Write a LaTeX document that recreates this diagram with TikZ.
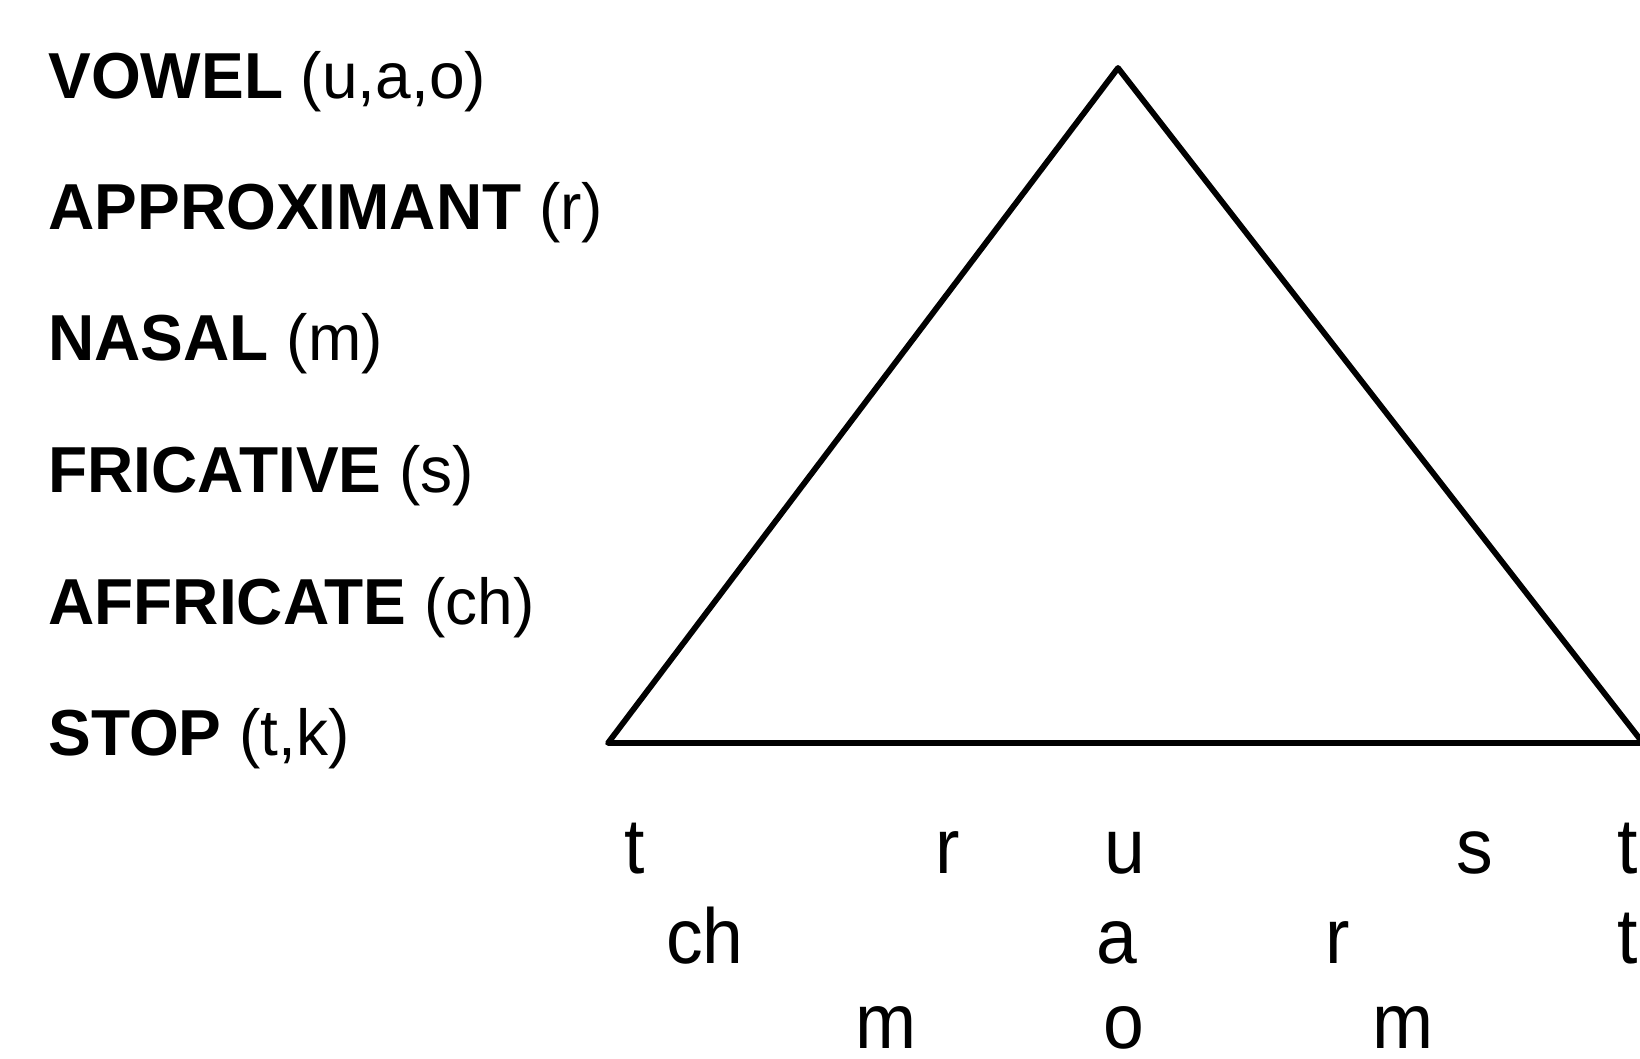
\documentclass[tikz,border=0pt]{standalone}
\usepackage{fontspec}
\setmainfont{Liberation Sans}[FakeStretch=0.94]
\newfontfamily\labfont{Liberation Sans}[FakeStretch=0.985]
\begin{document}
\begin{tikzpicture}[x=0.5pt,y=-0.5pt,
  lab/.style={anchor=base west,inner sep=0pt,font=\labfont\fontsize{32.5pt}{39pt}\selectfont},
  seg/.style={anchor=base,inner sep=0pt,font=\fontsize{39pt}{46pt}\selectfont},
  tri/.style={draw=black,line width=2.9pt,line join=round,line cap=round}]
\useasboundingbox (0,0) rectangle (1640,1059);
\begin{scope}
\clip (0,0) rectangle (1640,1059);
\node[lab] (vowel) at (48,99) {\textbf{VOWEL} (u,a,o)};
\node[lab] (approx) at (48,230) {\textbf{APPROXIMANT} (r)};
\node[lab] (nasal) at (48,361) {\textbf{NASAL} (m)};
\node[lab] (fric) at (48,493) {\textbf{FRICATIVE} (s)};
\node[lab] (affr) at (48,624) {\textbf{AFFRICATE} (ch)};
\node[lab] (stop) at (48,755) {\textbf{STOP} (t,k)};
\coordinate (apex) at (1118,68);
\coordinate (bl) at (608,743);
\coordinate (br) at (1643,743);
\draw[tri] (bl) -- (apex) -- (br) -- cycle;
% row 1
\node[seg] (a1) at (635,873) {t};
\node[seg] (a2) at (948,873) {r};
\node[seg] (a3) at (1125,873) {u};
\node[seg] (a4) at (1475,873) {s};
\node[seg] (a5) at (1628,873) {t};
% row 2
\node[seg] (b1) at (705,963) {ch};
\node[seg] (b2) at (1117,963) {a};
\node[seg] (b3) at (1338,963) {r};
\node[seg] (b4) at (1628,963) {t};
% row 3
\node[seg] (c1) at (886,1048) {m};
\node[seg] (c2) at (1124,1048) {o};
\node[seg] (c3) at (1403,1048) {m};
\end{scope}
\end{tikzpicture}
\end{document}
